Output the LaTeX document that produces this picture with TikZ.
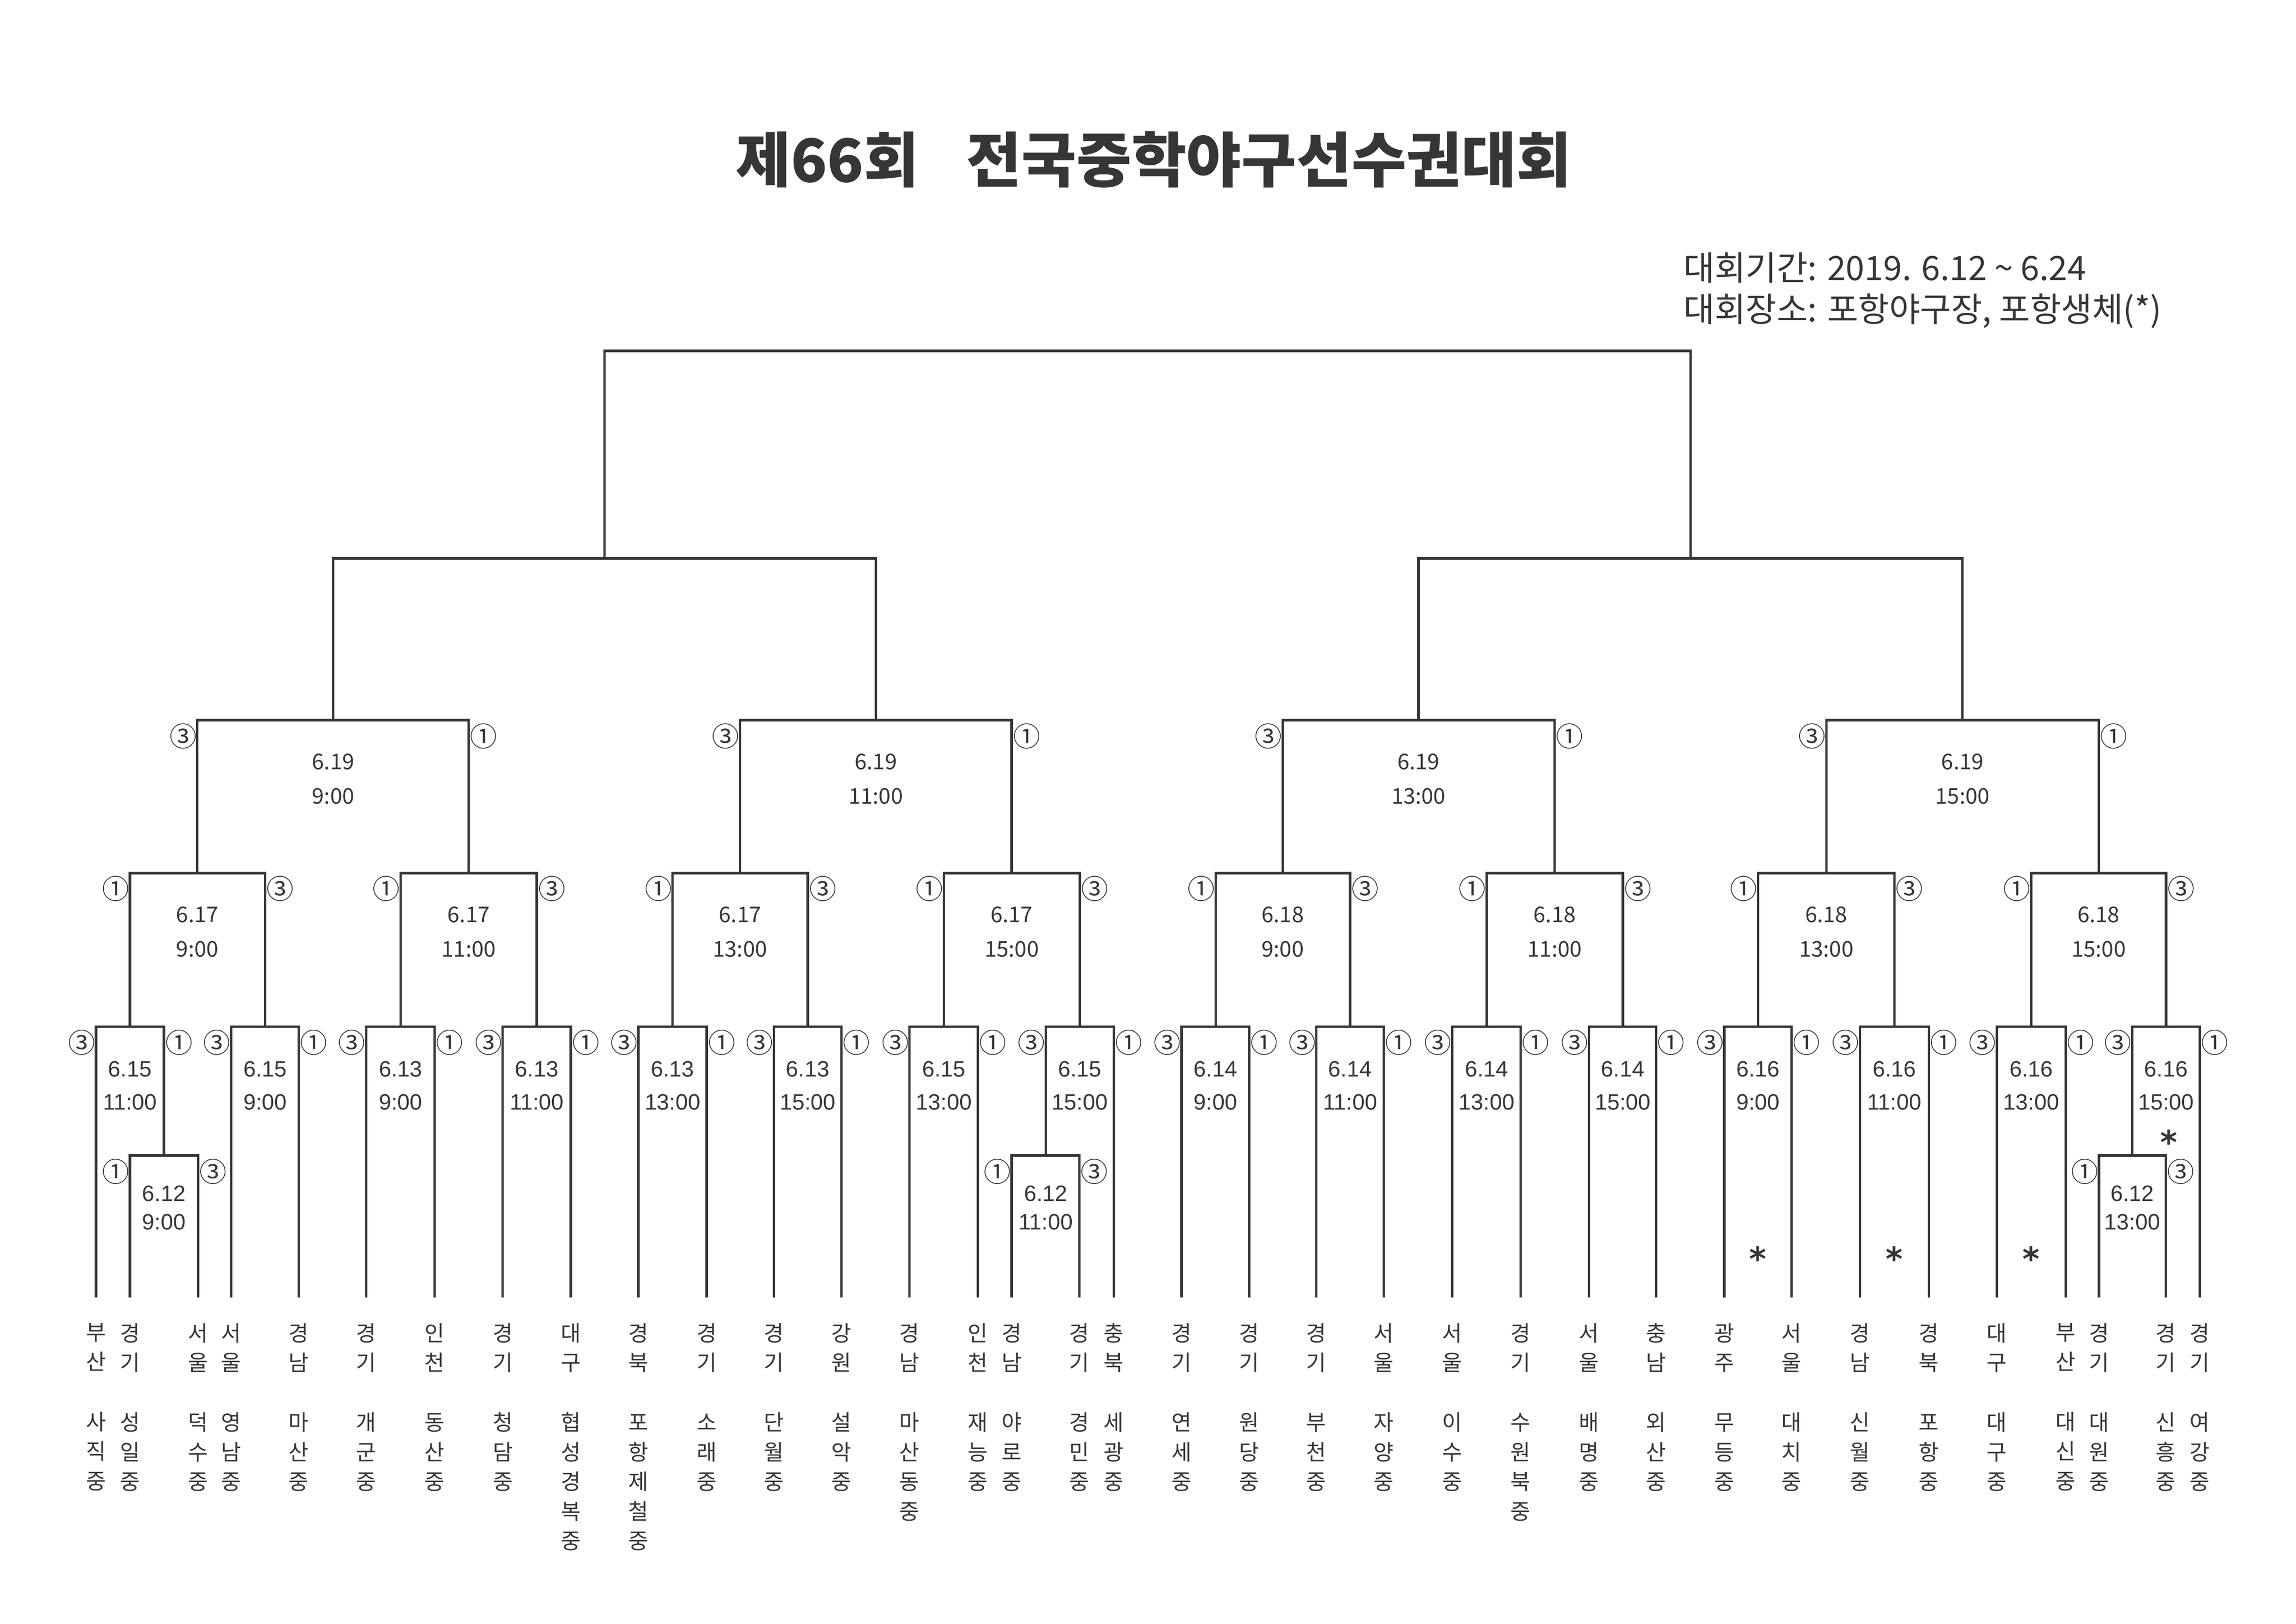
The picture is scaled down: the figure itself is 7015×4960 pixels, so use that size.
\documentclass[tikz,border=0pt]{standalone}
\usepackage{fontspec}
\setmainfont{Noto Sans CJK KR}
\newfontfamily\numfont{Liberation Sans}
\newfontfamily\symfont{DejaVu Sans}
\definecolor{ink}{HTML}{363636}

\begin{document}
\begin{tikzpicture} [x=0.042338mm, y=-0.042338mm, align=center, line width=0.9pt, color=ink,
  team/.style={anchor=north, inner sep=0pt, outer ysep=3.35mm, font=\fontsize{8}{10.9}\selectfont},
  date/.style={anchor=north, inner sep=0pt, yshift=-4.2mm, font=\fontsize{8}{12.6}\selectfont},
  rdate/.style={anchor=north, inner sep=0pt, yshift=-4.35mm, font=\numfont\fontsize{8.2}{12.1}\selectfont},
  predate/.style={anchor=north, inner sep=0pt, yshift=-3.75mm, font=\numfont\fontsize{8.2}{10.4}\selectfont},
  lc/.style={inner sep=0pt, xshift=-1.85mm, yshift=-2.05mm, font=\fontsize{10}{10}\selectfont},
  rc/.style={inner sep=0pt, xshift=1.95mm, yshift=-2.05mm, font=\fontsize{10}{10}\selectfont},
  venue/.style={anchor=north, inner sep=0pt, font=\symfont\bfseries\fontsize{12}{12}\selectfont}]
  \path [fill=white] (0,0) rectangle (7015,4960);
  \useasboundingbox (0,0) rectangle (7015,4960);

  \node (title) at (3525,487) {\fontsize{22}{22}\selectfont\bfseries 제66회\hspace{0.8em}전국중학야구선수권대회};
  \node (period) [anchor=west, inner sep=0pt] at (5141,818) {\fontsize{12.4}{12.4}\selectfont 대회기간: 2019. 6.12 \textasciitilde{} 6.24};
  \node (place) [anchor=west, inner sep=0pt] at (5141,950) {\fontsize{12.4}{12.4}\selectfont 대회장소: 포항야구장, 포항생체(*)};

  % teams
  \path (0,3963)
    +(293,0)  node[team](t1){부\\산\\[3.9mm]사\\직\\중}
    +(397,0)  node[team](t2){경\\기\\[3.9mm]성\\일\\중}
    +(605,0)  node[team](t3){서\\울\\[3.9mm]덕\\수\\중}
    +(706,0)  node[team](t4){서\\울\\[3.9mm]영\\남\\중}
    +(913,0)  node[team](t5){경\\남\\[3.9mm]마\\산\\중}
    +(1119,0) node[team](t6){경\\기\\[3.9mm]개\\군\\중}
    +(1328,0) node[team](t7){인\\천\\[3.9mm]동\\산\\중}
    +(1536,0) node[team](t8){경\\기\\[3.9mm]청\\담\\중}
    +(1744,0) node[team](t9){대\\구\\[3.9mm]협\\성\\경\\복\\중}
    +(1950,0) node[team](t10){경\\북\\[3.9mm]포\\항\\제\\철\\중}
    +(2159,0) node[team](t11){경\\기\\[3.9mm]소\\래\\중}
    +(2365,0) node[team](t12){경\\기\\[3.9mm]단\\월\\중}
    +(2571,0) node[team](t13){강\\원\\[3.9mm]설\\악\\중}
    +(2779,0) node[team](t14){경\\남\\[3.9mm]마\\산\\동\\중}
    +(2988,0) node[team](t15){인\\천\\[3.9mm]재\\능\\중}
    +(3091,0) node[team](t16){경\\남\\[3.9mm]야\\로\\중}
    +(3298,0) node[team](t17){경\\기\\[3.9mm]경\\민\\중}
    +(3403,0) node[team](t18){충\\북\\[3.9mm]세\\광\\중}
    +(3610,0) node[team](t19){경\\기\\[3.9mm]연\\세\\중}
    +(3817,0) node[team](t20){경\\기\\[3.9mm]원\\당\\중}
    +(4022,0) node[team](t21){경\\기\\[3.9mm]부\\천\\중}
    +(4228,0) node[team](t22){서\\울\\[3.9mm]자\\양\\중}
    +(4437,0) node[team](t23){서\\울\\[3.9mm]이\\수\\중}
    +(4646,0) node[team](t24){경\\기\\[3.9mm]수\\원\\북\\중}
    +(4855,0) node[team](t25){서\\울\\[3.9mm]배\\명\\중}
    +(5060,0) node[team](t26){충\\남\\[3.9mm]외\\산\\중}
    +(5268,0) node[team](t27){광\\주\\[3.9mm]무\\등\\중}
    +(5474,0) node[team](t28){서\\울\\[3.9mm]대\\치\\중}
    +(5683,0) node[team](t29){경\\남\\[3.9mm]신\\월\\중}
    +(5893,0) node[team](t30){경\\북\\[3.9mm]포\\항\\중}
    +(6101,0) node[team](t31){대\\구\\[3.9mm]대\\구\\중}
    +(6311,0) node[team](t32){부\\산\\[3.9mm]대\\신\\중}
    +(6413,0) node[team](t33){경\\기\\[3.9mm]대\\원\\중}
    +(6617,0) node[team](t34){경\\기\\[3.9mm]신\\흥\\중}
    +(6721,0) node[team](t35){경\\기\\[3.9mm]여\\강\\중};

  % bar midpoints
  \path (0,3530) +(501,0) coordinate(pa) +(3195,0) coordinate(pb) +(6515,0) coordinate(pc);
  \path (0,3136)
    +(397,0) coordinate(ra)  +(810,0) coordinate(rb)  +(1224,0) coordinate(rc) +(1640,0) coordinate(rd)
    +(2055,0) coordinate(re) +(2468,0) coordinate(rf) +(2884,0) coordinate(rg) +(3299,0) coordinate(rh)
    +(3714,0) coordinate(ri) +(4125,0) coordinate(rj) +(4542,0) coordinate(rk) +(4958,0) coordinate(rl)
    +(5371,0) coordinate(rm) +(5788,0) coordinate(rn) +(6206,0) coordinate(ro) +(6618,0) coordinate(rp);
  \path (0,2667)
    +(603,0) coordinate(sa)  +(1432,0) coordinate(sb) +(2261,0) coordinate(sc) +(3091,0) coordinate(sd)
    +(3919,0) coordinate(se) +(4750,0) coordinate(sf) +(5580,0) coordinate(sg) +(6412,0) coordinate(sh);
  \path (0,2200) +(1018,0) coordinate(qa) +(2676,0) coordinate(qb) +(4334,0) coordinate(qc) +(5996,0) coordinate(qd);
  \path (0,1706) +(1847,0) coordinate(ha) +(5165,0) coordinate(hb);
  \path (0,1072) +(3506,0) coordinate(fi);

  % preliminary games
  \draw (t2) |- node[pos=0.5,lc]{①} (pa) -| node[pos=0.5,rc]{③} (t3);
  \draw (t16) |- node[pos=0.5,lc]{①} (pb) -| node[pos=0.5,rc]{③} (t17);
  \draw (t33) |- node[pos=0.5,lc]{①} (pc) -| node[pos=0.5,rc]{③} (t34);

  % first round
  \draw (t1) |- node[pos=0.5,lc]{③} (ra) -| node[pos=0.5,rc]{①} (pa);
  \draw (t4) |- node[pos=0.5,lc]{③} (rb) -| node[pos=0.5,rc]{①} (t5);
  \draw (t6) |- node[pos=0.5,lc]{③} (rc) -| node[pos=0.5,rc]{①} (t7);
  \draw (t8) |- node[pos=0.5,lc]{③} (rd) -| node[pos=0.5,rc]{①} (t9);
  \draw (t10) |- node[pos=0.5,lc]{③} (re) -| node[pos=0.5,rc]{①} (t11);
  \draw (t12) |- node[pos=0.5,lc]{③} (rf) -| node[pos=0.5,rc]{①} (t13);
  \draw (t14) |- node[pos=0.5,lc]{③} (rg) -| node[pos=0.5,rc]{①} (t15);
  \draw (pb) |- node[pos=0.5,lc]{③} (rh) -| node[pos=0.5,rc]{①} (t18);
  \draw (t19) |- node[pos=0.5,lc]{③} (ri) -| node[pos=0.5,rc]{①} (t20);
  \draw (t21) |- node[pos=0.5,lc]{③} (rj) -| node[pos=0.5,rc]{①} (t22);
  \draw (t23) |- node[pos=0.5,lc]{③} (rk) -| node[pos=0.5,rc]{①} (t24);
  \draw (t25) |- node[pos=0.5,lc]{③} (rl) -| node[pos=0.5,rc]{①} (t26);
  \draw (t27) |- node[pos=0.5,lc]{③} (rm) -| node[pos=0.5,rc]{①} (t28);
  \draw (t29) |- node[pos=0.5,lc]{③} (rn) -| node[pos=0.5,rc]{①} (t30);
  \draw (t31) |- node[pos=0.5,lc]{③} (ro) -| node[pos=0.5,rc]{①} (t32);
  \draw (pc) |- node[pos=0.5,lc]{③} (rp) -| node[pos=0.5,rc]{①} (t35);

  % second round
  \draw (ra) |- node[pos=0.5,lc]{①} (sa) -| node[pos=0.5,rc]{③} (rb);
  \draw (rc) |- node[pos=0.5,lc]{①} (sb) -| node[pos=0.5,rc]{③} (rd);
  \draw (re) |- node[pos=0.5,lc]{①} (sc) -| node[pos=0.5,rc]{③} (rf);
  \draw (rg) |- node[pos=0.5,lc]{①} (sd) -| node[pos=0.5,rc]{③} (rh);
  \draw (ri) |- node[pos=0.5,lc]{①} (se) -| node[pos=0.5,rc]{③} (rj);
  \draw (rk) |- node[pos=0.5,lc]{①} (sf) -| node[pos=0.5,rc]{③} (rl);
  \draw (rm) |- node[pos=0.5,lc]{①} (sg) -| node[pos=0.5,rc]{③} (rn);
  \draw (ro) |- node[pos=0.5,lc]{①} (sh) -| node[pos=0.5,rc]{③} (rp);

  % quarter finals, semi finals, final
  \draw (sa) |- node[pos=0.5,lc]{③} (qa) -| node[pos=0.5,rc]{①} (sb);
  \draw (sc) |- node[pos=0.5,lc]{③} (qb) -| node[pos=0.5,rc]{①} (sd);
  \draw (se) |- node[pos=0.5,lc]{③} (qc) -| node[pos=0.5,rc]{①} (sf);
  \draw (sg) |- node[pos=0.5,lc]{③} (qd) -| node[pos=0.5,rc]{①} (sh);
  \draw (qa) |- (ha) -| (qb);
  \draw (qc) |- (hb) -| (qd);
  \draw (ha) |- (fi) -| (hb);

  % dates
  \node (dpa) [predate] at (pa) {6.12\\9:00};
  \node (dpb) [predate] at (pb) {6.12\\11:00};
  \node (dpc) [predate] at (pc) {6.12\\13:00};
  \node (dra) [rdate] at (ra) {6.15\\11:00};
  \node (drb) [rdate] at (rb) {6.15\\9:00};
  \node (drc) [rdate] at (rc) {6.13\\9:00};
  \node (drd) [rdate] at (rd) {6.13\\11:00};
  \node (dre) [rdate] at (re) {6.13\\13:00};
  \node (drf) [rdate] at (rf) {6.13\\15:00};
  \node (drg) [rdate] at (rg) {6.15\\13:00};
  \node (drh) [rdate] at (rh) {6.15\\15:00};
  \node (dri) [rdate] at (ri) {6.14\\9:00};
  \node (drj) [rdate] at (rj) {6.14\\11:00};
  \node (drk) [rdate] at (rk) {6.14\\13:00};
  \node (drl) [rdate] at (rl) {6.14\\15:00};
  \node (drm) [rdate] at (rm) {6.16\\9:00};
  \node (drn) [rdate] at (rn) {6.16\\11:00};
  \node (dro) [rdate] at (ro) {6.16\\13:00};
  \node (drp) [rdate] at (rp) {6.16\\15:00};
  \node (dsa) [date] at (sa) {6.17\\9:00};
  \node (dsb) [date] at (sb) {6.17\\11:00};
  \node (dsc) [date] at (sc) {6.17\\13:00};
  \node (dsd) [date] at (sd) {6.17\\15:00};
  \node (dse) [date] at (se) {6.18\\9:00};
  \node (dsf) [date] at (sf) {6.18\\11:00};
  \node (dsg) [date] at (sg) {6.18\\13:00};
  \node (dsh) [date] at (sh) {6.18\\15:00};
  \node (dqa) [date] at (qa) {6.19\\9:00};
  \node (dqb) [date] at (qb) {6.19\\11:00};
  \node (dqc) [date] at (qc) {6.19\\13:00};
  \node (dqd) [date] at (qd) {6.19\\15:00};

  % games at the second ground
  \node (vm) [venue] at (5371,3804) {*};
  \node (vn) [venue] at (5788,3804) {*};
  \node (vo) [venue] at (6206,3804) {*};
  \node (vp) [venue] at (6626,3448) {*};

\end{tikzpicture}
\end{document}
